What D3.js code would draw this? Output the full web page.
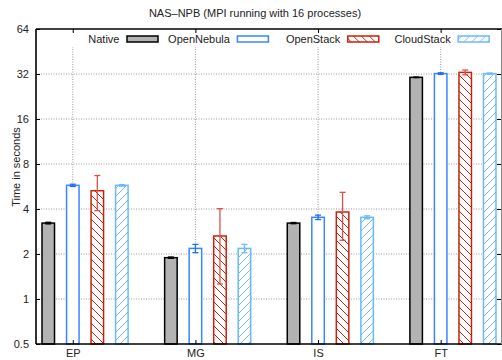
<!DOCTYPE html>
<html>
<head>
<meta charset="utf-8">
<script src="https://cdn.jsdelivr.net/npm/d3@7"></script>
<style>
body { margin: 0; background: #fff; }
svg { font-family: "Liberation Sans", Arial, sans-serif; }
</style>
</head>
<body>
<div id="graph"></div>
<script>
var categories = ["EP", "MG", "IS", "FT"]
var seriesNames = ["Native", "OpenNebula", "OpenStack", "CloudStack"]
var nativeTimes = [3.22, 1.89, 3.22, 30.4]
var nativeErr = [0.04, 0.02, 0.03, 0.15]
var openNebulaTimes = [5.76, 2.18, 3.52, 32.2]
var openNebulaErr = [0.1, 0.14, 0.12, 0.4]
var openStackTimes = [5.3, 2.64, 3.82, 32.8]
var openStackErr = [1.4, 1.38, 1.35, 1.2]
var cloudStackTimes = [5.76, 2.18, 3.52, 32.2]
var cloudStackErr = [0.07, 0.14, 0.08, 0.3]
var yTicks = [0.5, 1, 2, 4, 8, 16, 32, 64]

var width = 502, height = 360
var margin = {top: 29, left: 36, bottom: 16, right: 0}

var svg = d3.select("#graph").append("svg")
    .attr("width", width).attr("height", height)

var x = d3.scaleLinear().domain([-0.3, 3.5]).range([margin.left, width - margin.right])
var y = d3.scaleLog().base(2).domain([0.5, 64]).range([height - margin.bottom, margin.top])

var series = [
    {name: seriesNames[0], values: nativeTimes, err: nativeErr, stroke: "#000", fill: "#b3b3b3", errColor: "#000", offset: -0.2},
    {name: seriesNames[1], values: openNebulaTimes, err: openNebulaErr, stroke: "#3a86ff", fill: "#fff", errColor: "#1a6cf0", offset: 0},
    {name: seriesNames[2], values: openStackTimes, err: openStackErr, stroke: "#c8220e", fill: "url(#hatchRed)", errColor: "#d9534a", offset: 0.2},
    {name: seriesNames[3], values: cloudStackTimes, err: cloudStackErr, stroke: "#6cb8ff", fill: "url(#hatchBlue)", errColor: "#6cb8ff", offset: 0.4}
]

// hatch patterns
var defs = svg.append("defs")
function hatch(id, color, dir) {
    var p = defs.append("pattern").attr("id", id)
        .attr("patternUnits", "userSpaceOnUse")
        .attr("width", 8).attr("height", 8)
    p.append("rect").attr("width", 8).attr("height", 8).attr("fill", "#fff")
    var d = dir > 0 ? "M-2,2 L2,-2 M0,8 L8,0 M6,10 L10,6" : "M-2,6 L2,10 M0,0 L8,8 M6,-2 L10,2"
    p.append("path").attr("d", d).attr("stroke", color).attr("stroke-width", 1)
}
hatch("hatchRed", "#c8220e", -1)
hatch("hatchBlue", "#6cb8ff", 1)

var x0 = x.range()[0], x1 = x.range()[1] - 1
var yBottom = y(0.5), yTop = y(64)

// grid
svg.append("g").selectAll("line.hgrid")
    .data(yTicks.filter(function(d) { return d > 0.5 && d < 64 }))
    .enter().append("line")
    .attr("x1", x0).attr("x2", x1)
    .attr("y1", function(d) { return y(d) }).attr("y2", function(d) { return y(d) })
    .attr("stroke", "#999").attr("stroke-dasharray", "1,1.5")

svg.append("g").selectAll("line.vgrid")
    .data(categories)
    .enter().append("line")
    .attr("x1", function(d, i) { return x(i) }).attr("x2", function(d, i) { return x(i) })
    .attr("y1", yTop).attr("y2", yBottom)
    .attr("stroke", "#999").attr("stroke-dasharray", "1,1.5")

// legend background hides the grid under the key
svg.append("rect").attr("x", x0 + 2).attr("y", yTop + 3).attr("width", x1 - x0 - 4).attr("height", 15).attr("fill", "#fff")

// bars
var bw = 0.102
series.forEach(function(s) {
    var g = svg.append("g")
    g.selectAll("rect")
        .data(s.values)
        .enter().append("rect")
        .attr("x", function(d, i) { return x(i + s.offset - bw / 2) })
        .attr("width", x(bw) - x(0))
        .attr("y", function(d) { return y(d) })
        .attr("height", function(d) { return yBottom - y(d) })
        .attr("fill", s.fill)
        .attr("stroke", s.stroke).attr("stroke-width", 1.5)

    var eb = g.selectAll("g.err")
        .data(s.values)
        .enter().append("g")
        .attr("stroke", s.errColor).attr("stroke-width", 1.3)
    eb.append("line")
        .attr("x1", function(d, i) { return x(i + s.offset) }).attr("x2", function(d, i) { return x(i + s.offset) })
        .attr("y1", function(d, i) { return y(d + s.err[i]) }).attr("y2", function(d, i) { return y(d - s.err[i]) })
    eb.append("line")
        .attr("x1", function(d, i) { return x(i + s.offset) - 3 }).attr("x2", function(d, i) { return x(i + s.offset) + 3 })
        .attr("y1", function(d, i) { return y(d + s.err[i]) }).attr("y2", function(d, i) { return y(d + s.err[i]) })
    eb.append("line")
        .attr("x1", function(d, i) { return x(i + s.offset) - 3 }).attr("x2", function(d, i) { return x(i + s.offset) + 3 })
        .attr("y1", function(d, i) { return y(d - s.err[i]) }).attr("y2", function(d, i) { return y(d - s.err[i]) })
})

// frame
svg.append("line").attr("x1", x0).attr("x2", x0).attr("y1", yTop).attr("y2", yBottom).attr("stroke", "#000").attr("stroke-width", 1.6)
svg.append("line").attr("x1", x0).attr("x2", x1 + 1).attr("y1", yTop).attr("y2", yTop).attr("stroke", "#000").attr("stroke-width", 1.6)
svg.append("line").attr("x1", x0).attr("x2", x1 + 1).attr("y1", yBottom).attr("y2", yBottom).attr("stroke", "#000").attr("stroke-width", 1.6)
svg.append("line").attr("x1", x1 + 0.5).attr("x2", x1 + 0.5).attr("y1", yTop).attr("y2", yBottom).attr("stroke", "#888").attr("stroke-width", 1)

// y axis ticks, left and mirrored on right
var yAxis = d3.axisLeft(y).tickValues(yTicks).tickSize(-4).tickPadding(7)
    .tickFormat(function(d) { return d })
var ya = svg.append("g").attr("transform", "translate(" + x0 + ",0)").call(yAxis)
ya.select(".domain").remove()
ya.selectAll("text").attr("font-size", 11).attr("fill", "#222").attr("font-family", "Liberation Sans, Arial, sans-serif")
var yr = svg.append("g").attr("transform", "translate(" + x1 + ",0)").call(d3.axisRight(y).tickValues(yTicks).tickSize(-4).tickFormat(""))
yr.select(".domain").remove()

// x axis
var xAxis = d3.axisBottom(x).tickValues([0, 1, 2, 3]).tickSize(-4).tickPadding(5)
    .tickFormat(function(d) { return categories[d] })
var xa = svg.append("g").attr("transform", "translate(0," + yBottom + ")").call(xAxis)
xa.select(".domain").remove()
xa.selectAll("text").attr("font-size", 11).attr("fill", "#222").attr("font-family", "Liberation Sans, Arial, sans-serif")
var xt = svg.append("g").attr("transform", "translate(0," + yTop + ")").call(d3.axisTop(x).tickValues([0, 1, 2, 3]).tickSize(-4).tickFormat(""))
xt.select(".domain").remove()

// legend
var legend = svg.append("g").selectAll("g")
    .data(series)
    .enter().append("g")
    .attr("transform", function(d, i) { return "translate(" + (119.5 + i * 110.4) + "," + (yTop + 10) + ")" })
legend.append("text")
    .attr("text-anchor", "end").attr("dy", "0.35em")
    .attr("font-size", 11).attr("fill", "#222")
    .text(function(d) { return d.name })
legend.append("rect")
    .attr("x", 7.5).attr("y", -3).attr("width", 31).attr("height", 6)
    .attr("fill", function(d) { return d.fill })
    .attr("stroke", function(d) { return d.stroke }).attr("stroke-width", 1.5)

// title and axis label
svg.append("text").attr("x", 255).attr("y", 17).attr("text-anchor", "middle")
    .attr("font-size", 11).attr("fill", "#222")
    .text("NAS\u2013NPB (MPI running with 16 processes)")
svg.append("text").attr("transform", "translate(20,167) rotate(-90)")
    .attr("text-anchor", "middle").attr("font-size", 11).attr("fill", "#222")
    .text("Time in seconds")
</script>
</body>
</html>
